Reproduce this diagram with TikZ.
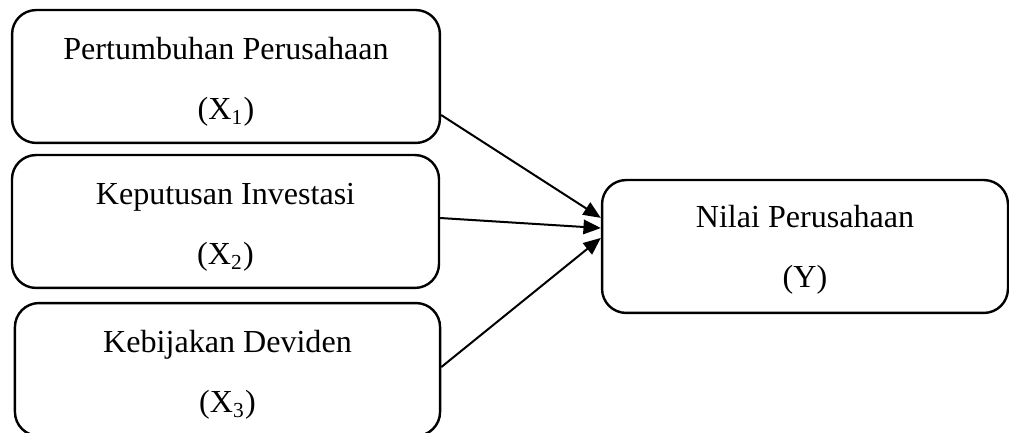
\documentclass[tikz,border=0pt]{standalone}
\usepackage{fontspec}
\setmainfont{Liberation Serif}
\usetikzlibrary{shapes,arrows.meta}

\begin{document}
\begin{tikzpicture}[x=0.374pt, y=-0.374pt,
  var/.style={rectangle, rounded corners=9pt, draw, line width=0.9pt, align=center,
    minimum height=49.7pt, text height=37pt, text depth=4.7pt,
    font=\fontsize{12}{22.4}\selectfont},
  link/.style={line width=0.75pt, -{Triangle[length=6.5pt, width=5.4pt]}}]
\useasboundingbox (0,0) rectangle (1009,433);

\node[var, minimum width=160pt] (x1) at (226,76.5) {Pertumbuhan Perusahaan\\(X\textsubscript{1})};
\node[var, minimum width=159.7pt] (x2) at (225.5,221.5) {Keputusan Investasi\\(X\textsubscript{2})};
\node[var, minimum width=159pt] (x3) at (227.5,369.5) {Kebijakan Deviden\\(X\textsubscript{3})};

\node[var, minimum width=151.8pt, text height=36.2pt, text depth=5.5pt] (y) at (805,246.5) {Nilai Perusahaan\\(Y)};

\draw[link] ([yshift=-14.4pt]x1.east) to ([yshift=10.7pt]y.west);
\draw[link] ([yshift=1.3pt]x2.east) to ([yshift=6.9pt]y.west);
\draw[link] ([yshift=0.9pt]x3.east) to ([yshift=3.2pt]y.west);
\end{tikzpicture}
\end{document}
